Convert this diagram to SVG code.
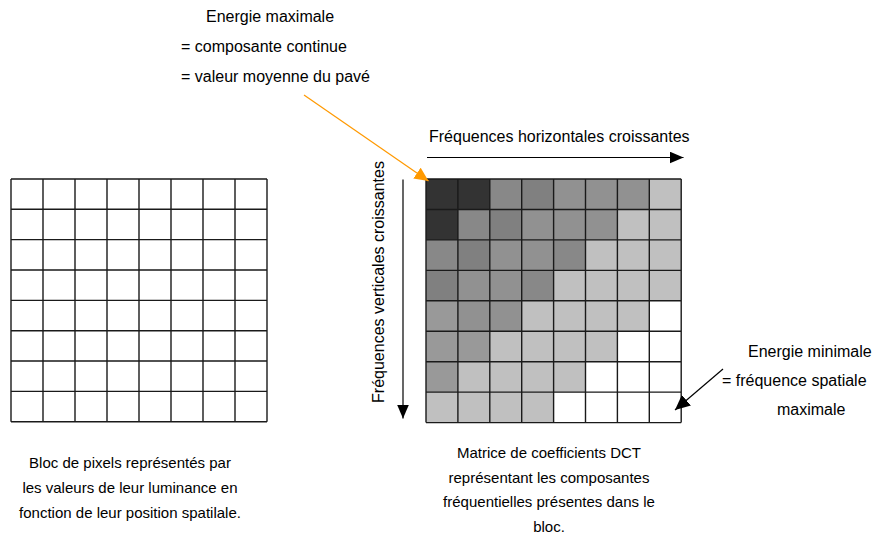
<svg xmlns="http://www.w3.org/2000/svg" width="880" height="555" viewBox="0 0 880 555">
<defs>
<style>
text{font-family:"Liberation Sans",Arial,sans-serif;font-size:16px;fill:#000}
.sm{font-size:15px}
.mid{text-anchor:middle}
.grid{fill:none;stroke:#1a1a1a;stroke-width:1.4}
.a{fill:#333333}.b{fill:#808080}.b2{fill:#888888}.c{fill:#919191}.c2{fill:#999999}.d{fill:#c0c0c0}
.conn{fill:none;stroke:#000;stroke-width:1.2}
.orange{fill:none;stroke:#ff9900;stroke-width:1.2}
</style>
<marker id="ah" markerUnits="userSpaceOnUse" viewBox="0 0 14 12" refX="14" refY="6" markerWidth="14" markerHeight="12" orient="auto"><path d="M0,0L14,6L0,12z" fill="#000"/></marker>
<marker id="ahs" markerUnits="userSpaceOnUse" viewBox="0 0 15 14" refX="15" refY="7" markerWidth="15" markerHeight="14" orient="auto"><path d="M0,0L15,7L0,14z" fill="#000"/></marker>
<marker id="aho" markerUnits="userSpaceOnUse" viewBox="0 0 14 13" refX="14" refY="6.5" markerWidth="14" markerHeight="13" orient="auto"><path d="M0,0L14,6.5L0,13z" fill="#ff9900"/></marker>
</defs>
<rect width="880" height="555" fill="#fff"/>

<g id="pixel-block">
<path class="grid" d="M11 179V421.7M43 179V421.7M75 179V421.7M107 179V421.7M139 179V421.7M171 179V421.7M203 179V421.7M235 179V421.7M267 179V421.7M11 179H267M11 209.3H267M11 239.6H267M11 270H267M11 300.4H267M11 330.7H267M11 361H267M11 391.4H267M11 421.7H267"/>
</g>

<g id="dct-matrix">
<g>
<rect class="a" x="426" y="179" width="32" height="30.5"/>
<rect class="a" x="457.9" y="179" width="32" height="30.5"/>
<rect class="b2" x="489.8" y="179" width="32" height="30.5"/>
<rect class="b" x="521.7" y="179" width="32" height="30.5"/>
<rect class="c" x="553.6" y="179" width="32" height="30.5"/>
<rect class="c" x="585.5" y="179" width="32" height="30.5"/>
<rect class="c" x="617.4" y="179" width="32" height="30.5"/>
<rect class="d" x="649.3" y="179" width="32" height="30.5"/>

<rect class="a" x="426" y="209.45" width="32" height="30.5"/>
<rect class="b2" x="457.9" y="209.45" width="32" height="30.5"/>
<rect class="b" x="489.8" y="209.45" width="32" height="30.5"/>
<rect class="c" x="521.7" y="209.45" width="32" height="30.5"/>
<rect class="c" x="553.6" y="209.45" width="32" height="30.5"/>
<rect class="c" x="585.5" y="209.45" width="32" height="30.5"/>
<rect class="d" x="617.4" y="209.45" width="32" height="30.5"/>
<rect class="d" x="649.3" y="209.45" width="32" height="30.5"/>

<rect class="b2" x="426" y="239.9" width="32" height="30.5"/>
<rect class="b" x="457.9" y="239.9" width="32" height="30.5"/>
<rect class="c" x="489.8" y="239.9" width="32" height="30.5"/>
<rect class="c" x="521.7" y="239.9" width="32" height="30.5"/>
<rect class="b2" x="553.6" y="239.9" width="32" height="30.5"/>
<rect class="d" x="585.5" y="239.9" width="32" height="30.5"/>
<rect class="d" x="617.4" y="239.9" width="32" height="30.5"/>
<rect class="d" x="649.3" y="239.9" width="32" height="30.5"/>

<rect class="b" x="426" y="270.35" width="32" height="30.5"/>
<rect class="c" x="457.9" y="270.35" width="32" height="30.5"/>
<rect class="c" x="489.8" y="270.35" width="32" height="30.5"/>
<rect class="b2" x="521.7" y="270.35" width="32" height="30.5"/>
<rect class="d" x="553.6" y="270.35" width="32" height="30.5"/>
<rect class="d" x="585.5" y="270.35" width="32" height="30.5"/>
<rect class="d" x="617.4" y="270.35" width="32" height="30.5"/>
<rect class="d" x="649.3" y="270.35" width="32" height="30.5"/>

<rect class="c2" x="426" y="300.8" width="32" height="30.5"/>
<rect class="c" x="457.9" y="300.8" width="32" height="30.5"/>
<rect class="c" x="489.8" y="300.8" width="32" height="30.5"/>
<rect class="d" x="521.7" y="300.8" width="32" height="30.5"/>
<rect class="d" x="553.6" y="300.8" width="32" height="30.5"/>
<rect class="d" x="585.5" y="300.8" width="32" height="30.5"/>
<rect class="d" x="617.4" y="300.8" width="32" height="30.5"/>

<rect class="c2" x="426" y="331.25" width="32" height="30.5"/>
<rect class="c2" x="457.9" y="331.25" width="32" height="30.5"/>
<rect class="d" x="489.8" y="331.25" width="32" height="30.5"/>
<rect class="d" x="521.7" y="331.25" width="32" height="30.5"/>
<rect class="d" x="553.6" y="331.25" width="32" height="30.5"/>
<rect class="d" x="585.5" y="331.25" width="32" height="30.5"/>

<rect class="c2" x="426" y="361.7" width="32" height="30.5"/>
<rect class="d" x="457.9" y="361.7" width="32" height="30.5"/>
<rect class="d" x="489.8" y="361.7" width="32" height="30.5"/>
<rect class="d" x="521.7" y="361.7" width="32" height="30.5"/>
<rect class="d" x="553.6" y="361.7" width="32" height="30.5"/>

<rect class="d" x="426" y="392.15" width="32" height="30.45"/>
<rect class="d" x="457.9" y="392.15" width="32" height="30.45"/>
<rect class="d" x="489.8" y="392.15" width="32" height="30.45"/>
<rect class="d" x="521.7" y="392.15" width="32" height="30.45"/>
</g>
<path class="grid" d="M426 179V422.6M457.9 179V422.6M489.8 179V422.6M521.7 179V422.6M553.6 179V422.6M585.5 179V422.6M617.4 179V422.6M649.3 179V422.6M681.2 179V422.6M426 179H681.2M426 209.45H681.2M426 239.9H681.2M426 270.35H681.2M426 300.8H681.2M426 331.25H681.2M426 361.7H681.2M426 392.15H681.2M426 422.6H681.2"/>
</g>

<g id="label-energie-max">
<text x="206" y="22">Energie maximale</text>
<text x="181" y="52">= composante continue</text>
<text x="181" y="82">= valeur moyenne du pavé</text>
</g>

<g id="label-horizontal">
<text x="429" y="142">Fréquences horizontales croissantes</text>
</g>

<g id="label-vertical">
<text class="mid" transform="translate(384,282) rotate(-90)" x="0" y="0">Fréquences verticales croissantes</text>
</g>

<g id="label-energie-min">
<text x="748" y="357">Energie minimale</text>
<text x="722" y="386">= fréquence spatiale</text>
<text x="777" y="415">maximale</text>
</g>

<g id="caption-pixels">
<text class="sm mid" x="130" y="468">Bloc de pixels représentés par</text>
<text class="sm mid" x="130" y="493">les valeurs de leur luminance en</text>
<text class="sm mid" x="130" y="518">fonction de leur position spatilale.</text>
</g>

<g id="caption-dct">
<text class="sm mid" x="549" y="458">Matrice de coefficients DCT</text>
<text class="sm mid" x="549" y="483">représentant les composantes</text>
<text class="sm mid" x="549" y="507">fréquentielles présentes dans le</text>
<text class="sm mid" x="549" y="532">bloc.</text>
</g>

<g id="connectors">
<line class="conn" x1="427" y1="157.5" x2="683.5" y2="157.5" marker-end="url(#ah)"/>
<line class="conn" x1="403" y1="179.5" x2="403" y2="418.5" marker-end="url(#ah)"/>
<line class="orange" x1="304" y1="95" x2="428.5" y2="181" marker-end="url(#aho)"/>
<line class="conn" x1="723" y1="369" x2="675" y2="410" marker-end="url(#ahs)"/>
</g>
</svg>
